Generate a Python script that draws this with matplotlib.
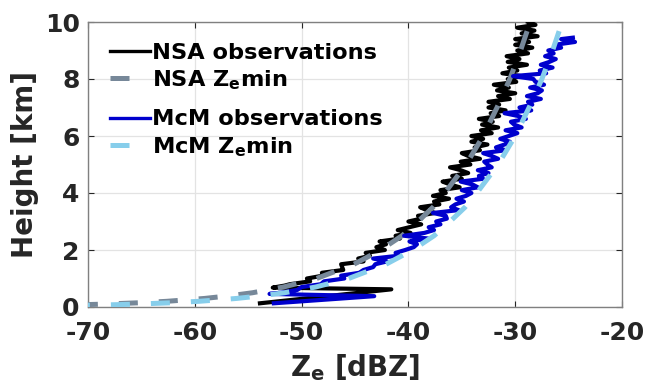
import numpy as np
import matplotlib
matplotlib.use("Agg")
import matplotlib.pyplot as plt

plt.rcParams['font.family'] = ['DejaVu Sans']
plt.rcParams['font.weight'] = 'bold'
plt.rcParams['mathtext.fontset'] = 'dejavusans'
plt.rcParams['axes.unicode_minus'] = False

# ---- data ----
zmin_h = [0.05, 0.08, 0.1, 0.15, 0.2, 0.3, 0.4, 0.5, 0.7, 1.0, 1.5, 2.0, 2.5, 3.0,
          3.5, 4.0, 5.0, 6.0, 7.0, 8.0, 9.0, 10.0]
nsa_zmin = [-74.6, -70.5, -68.6, -65.1, -62.6, -59.1, -56.6, -54.6, -51.7, -48.6,
            -45.1, -42.6, -40.6, -39.1, -37.7, -36.6, -34.6, -33.0, -31.7, -30.5,
            -29.5, -28.6]
mcm_zmin = [-71.6, -67.5, -65.6, -62.1, -59.6, -56.1, -53.6, -51.6, -48.7, -45.6,
            -42.1, -39.6, -37.6, -36.1, -34.7, -33.6, -31.6, -30.0, -28.7, -27.5,
            -26.5, -25.6]

nsa_obs_h = [0.13, 0.62, 0.68, 0.75,
             0.8, 0.9, 1.0, 1.1, 1.2, 1.3, 1.4, 1.5, 1.6, 1.7, 1.8, 1.9,
             2.0, 2.1, 2.2, 2.3, 2.4, 2.5, 2.6, 2.7, 2.8, 2.9,
             3.0, 3.1, 3.2, 3.3, 3.4, 3.5, 3.6, 3.7, 3.8, 3.9,
             4.0, 4.1, 4.2, 4.3, 4.4, 4.5, 4.6, 4.7, 4.8, 4.9,
             5.0, 5.1, 5.2, 5.3, 5.4, 5.5, 5.6, 5.7, 5.8, 5.9,
             6.0, 6.1, 6.2, 6.3, 6.4, 6.5, 6.6, 6.7, 6.8, 6.9,
             7.0, 7.1, 7.2, 7.3, 7.4, 7.5, 7.6, 7.7, 7.8, 7.9,
             8.0, 8.1, 8.2, 8.3, 8.4, 8.5, 8.6, 8.7, 8.8, 8.9,
             9.0, 9.1, 9.2, 9.3, 9.4, 9.5, 9.6, 9.7, 9.8, 9.9, 10.0]
nsa_obs = [-53.9, -41.6, -52.7, -51.6,
           -51.1, -49.2, -49.5, -48.0, -48.1, -46.1, -46.2, -46.3, -44.2, -44.7, -43.6, -44.0,
           -42.2, -43.0, -42.1, -42.7, -40.8, -41.2, -39.8, -41.0, -39.9, -38.8,
           -40.0, -38.8, -39.1, -37.5, -38.3, -38.9, -37.1, -37.6, -36.2, -37.7,
           -36.5, -37.0, -35.2, -36.1, -36.8, -35.0, -35.9, -34.4, -35.1, -36.1,
           -34.2, -35.1, -33.3, -34.4, -35.0, -33.3, -33.8, -32.6, -34.1, -33.0,
           -34.1, -32.2, -33.2, -31.6, -33.1, -32.1, -33.4, -31.5, -32.3, -30.9,
           -32.5, -31.5, -32.5, -30.5, -31.6, -30.0, -31.7, -30.6, -32.0, -29.9,
           -30.7, -29.4, -31.2, -29.8, -30.6, -28.9, -30.7, -29.6, -30.8, -28.8,
           -29.8, -28.4, -30.0, -28.7, -30.0, -27.9, -29.4, -28.2, -29.8, -28.1, -28.8]

mcm_obs_h = [0.13, 0.38, 0.46,
             0.5, 0.6, 0.7, 0.8, 0.9, 1.0, 1.1, 1.2, 1.3, 1.4, 1.5, 1.6, 1.7, 1.8, 1.9,
             2.0, 2.1, 2.2, 2.3, 2.4, 2.5, 2.6, 2.7, 2.8, 2.9,
             3.0, 3.1, 3.2, 3.3, 3.4, 3.5, 3.6, 3.7, 3.8, 3.9,
             4.0, 4.1, 4.2, 4.3, 4.4, 4.5, 4.6, 4.7, 4.8, 4.9,
             5.0, 5.1, 5.2, 5.3, 5.4, 5.5, 5.6, 5.7, 5.8, 5.9,
             6.0, 6.1, 6.2, 6.3, 6.4, 6.5, 6.6, 6.7, 6.8, 6.9,
             7.0, 7.1, 7.2, 7.3, 7.4, 7.5, 7.6, 7.7, 7.8, 7.9,
             8.0, 8.1, 8.2, 8.3, 8.4, 8.5, 8.6, 8.7, 8.8, 8.9,
             9.0, 9.1, 9.2, 9.3, 9.4, 9.45]
mcm_obs = [-52.6, -43.2, -53.0,
           -52.0, -50.4, -50.0, -48.2, -47.9, -46.0, -46.3, -44.6, -44.2, -43.3, -43.1, -42.0, -43.3, -40.9, -41.2,
           -40.3, -39.5, -39.2, -39.9, -38.1, -40.4, -38.5, -37.6, -38.1, -37.0,
           -37.4, -36.4, -36.5, -37.7, -35.3, -36.0, -35.6, -34.8, -35.5, -34.6,
           -34.1, -35.0, -33.5, -34.0, -35.1, -33.0, -33.4, -32.5, -33.5, -32.2,
           -32.6, -32.9, -31.6, -32.2, -33.0, -30.9, -31.8, -31.0, -30.5, -31.4,
           -30.6, -29.8, -30.9, -29.4, -30.1, -30.4, -29.0, -29.7, -31.0, -28.5,
           -29.6, -28.4, -28.8, -27.6, -28.9, -27.9, -27.5, -28.6, -27.3, -28.1,
           -28.3, -30.2, -27.1, -27.7, -26.5, -27.6, -26.8, -26.2, -27.2, -26.4,
           -26.9, -25.7, -26.3, -24.4, -25.7, -24.6]

labels = ["NSA observations", r"NSA Z$_{\mathbf{e}}$min",
          "McM observations", r"McM Z$_{\mathbf{e}}$min"]
colors = ["#000000", "#778899", "#0000CD", "#87CEEB"]

# ---- figure ----
fig = plt.figure(figsize=(6.45, 3.84), dpi=100)
ax = fig.add_axes([88/645, 77/384, 534/645, 285/384])

l1, = ax.plot(nsa_obs, nsa_obs_h, color=colors[0], lw=3.0, label=labels[0], zorder=3)
l2, = ax.plot(nsa_zmin, zmin_h, color=colors[1], lw=3.6, dashes=(3.8, 4.2), label=labels[1], zorder=4)
l3, = ax.plot(mcm_obs, mcm_obs_h, color=colors[2], lw=3.0, label=labels[2], zorder=5)
l4, = ax.plot(mcm_zmin, zmin_h, color=colors[3], lw=3.6, dashes=(3.8, 4.2), label=labels[3], zorder=6)

ax.set_xlim(-70, -20)
ax.set_ylim(0, 10)
ax.set_xticks([-70, -60, -50, -40, -30, -20])
ax.set_yticks([0, 2, 4, 6, 8, 10])
ax.grid(True, color="#e3e3e3", lw=0.9)
ax.set_axisbelow(True)
for s in ax.spines.values():
    s.set_color("#808080")
    s.set_linewidth(1.0)
ax.tick_params(direction='in', length=4, width=0.8, color="#262626",
               labelsize=18, labelcolor="#262626", top=True, right=True)
ax.tick_params(axis='x', pad=10)
ax.tick_params(axis='y', pad=6)
for lab in ax.get_xticklabels() + ax.get_yticklabels():
    lab.set_fontweight('bold')

ax.set_xlabel(r"Z$_{\mathbf{e}}$ [dBZ]", fontsize=20, fontweight='bold', color="#262626", labelpad=5)
ax.set_ylabel("Height [km]", fontsize=20, fontweight='bold', color="#262626", labelpad=4)

common = dict(loc='upper left', frameon=False, fontsize=16.2, handlelength=1.78,
              handletextpad=0.09, labelspacing=0.25, borderaxespad=0, borderpad=0)
leg1 = ax.legend([l1, l2], labels[:2], bbox_to_anchor=(0.041, 0.928), **common)
ax.add_artist(leg1)
leg2 = ax.legend([l3, l4], labels[2:], bbox_to_anchor=(0.041, 0.693), **common)
for lg in (leg1, leg2):
    for t in lg.get_texts():
        t.set_fontweight('bold')
    for h in lg.legend_handles:
        if h.get_linestyle() == '-':
            h.set_linewidth(2.4)

fig.savefig("out.png", dpi=100)
